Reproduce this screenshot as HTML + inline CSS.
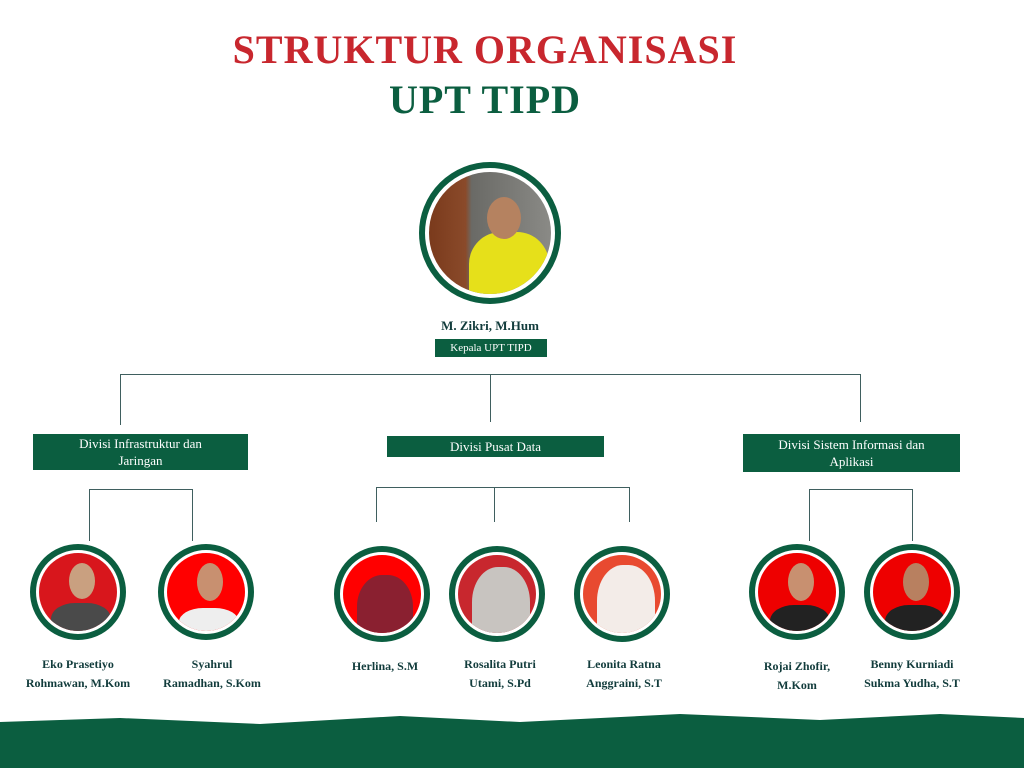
<!DOCTYPE html>
<html><head><meta charset="utf-8"><style>
*{margin:0;padding:0;box-sizing:border-box}
body{width:1024px;height:768px;background:#fff;position:relative;overflow:hidden;font-family:"Liberation Serif",serif}
.t{position:absolute;left:0;width:970px;text-align:center;font-weight:bold}
.ln{position:absolute;background:#3f5f5f}
.ban{position:absolute;background:#0b5e40;color:#fff;text-align:center;font-size:13px;line-height:17px;display:flex;align-items:center;justify-content:center}
.c{position:absolute;border-radius:50%;border:6px solid #0b5e40;background:#fff}
.c i{position:absolute;border-radius:50%;inset:3px;overflow:hidden;background:#d8161c}
.nm{position:absolute;width:140px;text-align:center;font-weight:bold;font-size:12px;line-height:19px;color:#123c3c}
</style></head><body>
<div class="t" style="top:26px;font-size:40px;color:#c8272e;letter-spacing:1px">STRUKTUR ORGANISASI</div>
<div class="t" style="top:76px;font-size:40px;color:#0b5e40;letter-spacing:1px">UPT TIPD</div>

<div class="c" style="left:419px;top:162px;width:142px;height:142px"><i style="inset:4px;background:linear-gradient(90deg,#7a3a1c 0,#8a4a2a 30%,#6a6a66 35%,#8a8a86 100%)"><b style="position:absolute;left:40px;top:60px;width:80px;height:80px;background:#e6e01a;border-radius:40% 40% 0 0"></b><b style="position:absolute;left:58px;top:25px;width:34px;height:42px;background:#b58260;border-radius:50%"></b></i></div>
<div class="nm" style="left:420px;top:316px;width:140px;font-size:13px">M. Zikri, M.Hum</div>
<div class="ban" style="left:435px;top:339px;width:112px;height:18px;font-size:11px">Kepala UPT TIPD</div>

<div class="ln" style="left:120px;top:374px;width:741px;height:1px"></div>
<div class="ln" style="left:120px;top:374px;width:1px;height:51px"></div>
<div class="ln" style="left:490px;top:374px;width:1px;height:48px"></div>
<div class="ln" style="left:860px;top:374px;width:1px;height:48px"></div>

<div class="ban" style="left:33px;top:434px;width:215px;height:36px">Divisi Infrastruktur dan<br>Jaringan</div>
<div class="ban" style="left:387px;top:436px;width:217px;height:21px">Divisi Pusat Data</div>
<div class="ban" style="left:743px;top:434px;width:217px;height:38px">Divisi Sistem Informasi dan<br>Aplikasi</div>

<div class="ln" style="left:89px;top:489px;width:104px;height:1px"></div>
<div class="ln" style="left:89px;top:489px;width:1px;height:52px"></div>
<div class="ln" style="left:192px;top:489px;width:1px;height:52px"></div>
<div class="ln" style="left:376px;top:487px;width:254px;height:1px"></div>
<div class="ln" style="left:376px;top:487px;width:1px;height:35px"></div>
<div class="ln" style="left:494px;top:487px;width:1px;height:35px"></div>
<div class="ln" style="left:629px;top:487px;width:1px;height:35px"></div>
<div class="ln" style="left:809px;top:489px;width:1px;height:52px"></div>
<div class="ln" style="left:912px;top:489px;width:1px;height:52px"></div>
<div class="ln" style="left:809px;top:489px;width:104px;height:1px"></div>

<div class="c" style="left:30px;top:544px;width:96px;height:96px"><i><b style="position:absolute;left:12px;top:50px;width:60px;height:40px;background:#4a4a4a;border-radius:40% 40% 0 0"></b><b style="position:absolute;left:30px;top:10px;width:26px;height:36px;background:#c9a080;border-radius:50%"></b></i></div>
<div class="c" style="left:158px;top:544px;width:96px;height:96px"><i style="background:#f00"><b style="position:absolute;left:12px;top:55px;width:60px;height:35px;background:#eee;border-radius:40% 40% 0 0"></b><b style="position:absolute;left:30px;top:10px;width:26px;height:38px;background:#c89070;border-radius:50%"></b></i></div>
<div class="c" style="left:334px;top:546px;width:96px;height:96px"><i style="background:#f00"><b style="position:absolute;left:14px;top:20px;width:56px;height:70px;background:#8a2030;border-radius:45% 45% 0 0"></b></i></div>
<div class="c" style="left:449px;top:546px;width:96px;height:96px"><i style="background:#c8272e"><b style="position:absolute;left:14px;top:12px;width:58px;height:78px;background:#c8c4c0;border-radius:45% 45% 0 0"></b></i></div>
<div class="c" style="left:574px;top:546px;width:96px;height:96px"><i style="background:#e84a30"><b style="position:absolute;left:14px;top:10px;width:58px;height:80px;background:#f3ece8;border-radius:45% 45% 0 0"></b></i></div>
<div class="c" style="left:749px;top:544px;width:96px;height:96px"><i style="background:#e00"><b style="position:absolute;left:12px;top:52px;width:60px;height:40px;background:#222;border-radius:40% 40% 0 0"></b><b style="position:absolute;left:30px;top:10px;width:26px;height:38px;background:#c89070;border-radius:50%"></b></i></div>
<div class="c" style="left:864px;top:544px;width:96px;height:96px"><i style="background:#e00"><b style="position:absolute;left:12px;top:52px;width:60px;height:40px;background:#222;border-radius:40% 40% 0 0"></b><b style="position:absolute;left:30px;top:10px;width:26px;height:38px;background:#b88060;border-radius:50%"></b></i></div>

<div class="nm" style="left:8px;top:655px">Eko Prasetiyo<br>Rohmawan, M.Kom</div>
<div class="nm" style="left:142px;top:655px">Syahrul<br>Ramadhan, S.Kom</div>
<div class="nm" style="left:315px;top:657px">Herlina, S.M</div>
<div class="nm" style="left:430px;top:655px">Rosalita Putri<br>Utami, S.Pd</div>
<div class="nm" style="left:554px;top:655px">Leonita Ratna<br>Anggraini, S.T</div>
<div class="nm" style="left:727px;top:657px">Rojai Zhofir,<br>M.Kom</div>
<div class="nm" style="left:842px;top:655px">Benny Kurniadi<br>Sukma Yudha, S.T</div>

<svg style="position:absolute;left:0;top:700px" width="1024" height="68"><path d="M0 22 L120 18 L260 24 L400 16 L520 22 L680 14 L820 20 L940 14 L1024 18 L1024 68 L0 68 Z" fill="#0b5e40"/></svg>
</body></html>
